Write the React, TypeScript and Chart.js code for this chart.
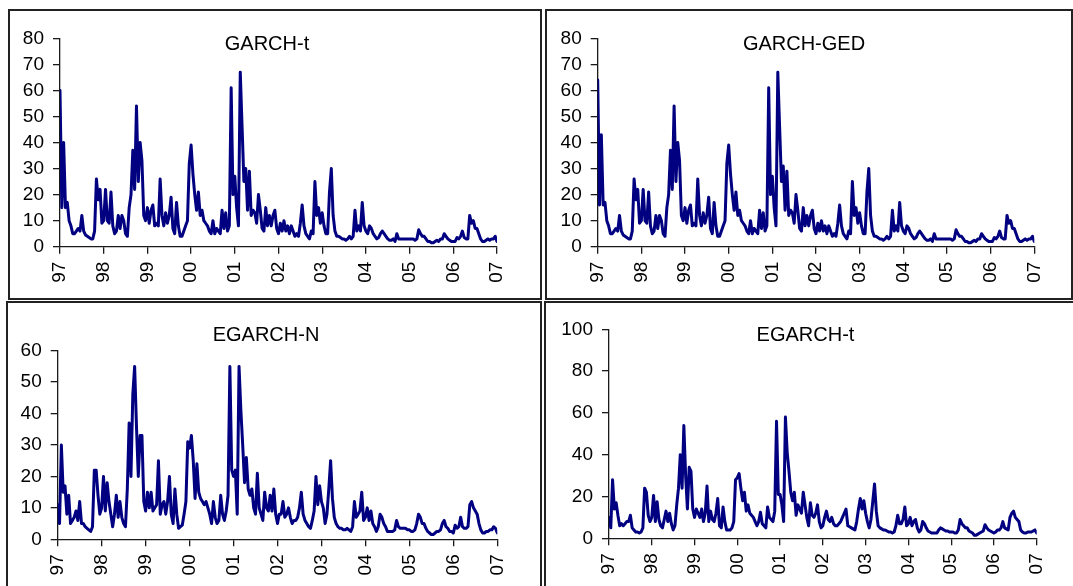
import { useEffect, useRef } from 'react';
import { Chart, registerables } from 'chart.js';

Chart.register(...registerables);

// Annualised conditional volatility, semi-monthly readings from Jan 1997 to Jan 2007
const firstYear = 1997;
const lastYear = 2007;
const periodsPerYear = 24;
const yearLabels = ['97', '98', '99', '00', '01', '02', '03', '04', '05', '06', '07'];

const garchT = [
  60, 15, 40, 15, 17, 10, 8, 5, 5, 6, 7, 6, 12, 6, 4.5, 4, 3.5, 3, 3, 6, 26, 18, 22, 9,
  10, 22, 10, 9, 21, 8, 5, 6, 12, 7, 12, 10, 5, 4, 15, 20, 37, 22, 54, 25, 40, 33, 12, 10,
  15, 9, 14, 16, 8, 9, 8, 26, 12, 8, 13, 9, 12, 19, 7, 5, 17, 8, 4, 4, 6, 8, 10, 32,
  39, 28, 20, 14, 21, 12, 14, 10, 9, 8, 6, 5, 10, 5, 7, 6, 5, 14, 7, 13, 6, 8, 61, 20,
  27, 15, 8, 67, 46, 25, 30, 14, 29, 12, 14, 13, 9, 20, 14, 7, 6, 15, 8, 12, 8, 12, 14, 7,
  5, 9, 6, 10, 6, 8, 5, 8, 6, 4, 5, 4, 9, 16, 8, 5, 4, 3, 6, 5, 25, 12, 15, 9,
  13, 8, 5, 5, 21, 30, 12, 6, 4, 4, 3.5, 3, 3, 2.5, 3, 4, 3, 4, 14, 6, 8, 6, 17, 8,
  6, 5, 8, 7, 5, 4, 3, 3.5, 5, 6, 5, 4, 3, 2.5, 2.5, 3, 2, 5, 3, 3, 3, 3, 3, 3,
  3, 3, 3, 2.5, 3, 6.5, 5, 4, 4, 3, 2, 2, 1.5, 1.5, 2, 2.5, 2, 3, 3, 5, 4, 3, 2.5, 2,
  2, 2, 3.5, 3, 4, 6, 3.5, 3, 3, 12, 9, 10, 7, 7, 5, 3, 2, 2, 2.5, 3, 2.5, 3, 3, 4, 2,
];

const garchGed = [
  64, 16, 43, 16, 17, 10, 8, 5, 5, 6, 7, 6, 12, 6, 4.5, 4, 3.5, 3, 3, 6, 26, 18, 22, 9,
  10, 22, 10, 9, 21, 8, 5, 6, 12, 7, 12, 10, 5, 4, 15, 20, 37, 22, 54, 25, 40, 33, 12, 10,
  15, 9, 14, 16, 8, 9, 8, 26, 12, 8, 13, 9, 12, 19, 7, 5, 17, 8, 4, 4, 6, 8, 10, 32,
  39, 28, 20, 14, 21, 12, 14, 10, 9, 8, 6, 5, 10, 5, 7, 6, 5, 14, 7, 13, 6, 8, 61, 20,
  27, 15, 8, 67, 46, 25, 31, 14, 29, 12, 14, 13, 9, 20, 14, 7, 6, 15, 8, 12, 8, 12, 14, 7,
  5, 9, 6, 10, 6, 8, 5, 8, 6, 4, 5, 4, 9, 16, 8, 5, 4, 3, 6, 5, 25, 12, 15, 9,
  13, 8, 5, 5, 21, 30, 12, 6, 4, 4, 3.5, 3, 3, 2.5, 3, 4, 3, 4, 14, 6, 8, 6, 17, 8,
  6, 5, 8, 7, 5, 4, 3, 3.5, 5, 6, 5, 4, 3, 2.5, 2.5, 3, 2, 5, 3, 3, 3, 3, 3, 3,
  3, 3, 3, 2.5, 3, 6.5, 5, 4, 4, 3, 2, 2, 1.5, 1.5, 2, 2.5, 2, 3, 3, 5, 4, 3, 2.5, 2,
  2, 2, 3.5, 3, 4, 6, 3.5, 3, 3, 12, 9, 10, 7, 7, 5, 3, 2, 2, 2.5, 3, 2.5, 3, 3, 4, 2,
];

const egarchN = [
  11, 5, 30, 15, 17, 8, 14, 5, 6, 7, 9, 6, 12, 5, 5, 4, 3.5, 3, 2.5, 4, 22, 22, 14, 8,
  10, 20, 9, 18, 12, 8, 4, 8, 14, 7, 12, 7, 5, 4, 16, 37, 20, 46, 55, 36, 20, 33, 33, 12,
  9, 15, 10, 15, 9, 10, 11, 25, 8, 11, 12, 8, 12, 20, 8, 5, 16, 8, 3.5, 4, 4.5, 8, 12, 31,
  29, 33, 25, 13, 24, 15, 13, 12, 11, 12, 10, 8, 5, 12, 7, 5, 6, 14, 8, 6, 9, 14, 55, 22,
  20, 22, 8, 55, 41, 30, 18, 26, 16, 14, 16, 10, 8, 21, 10, 8, 6, 15, 10, 9, 14, 9, 16, 8,
  5, 8, 8, 12, 7, 8, 10, 7, 5, 6, 6, 7, 10, 15, 8, 6, 5, 4, 3.5, 6, 9, 20, 11, 17,
  12, 10, 5, 8, 16, 25, 13, 7, 5, 4, 3.5, 3.5, 3, 3, 3.5, 3, 2.5, 4, 12, 7, 8, 9, 15, 6,
  7, 10, 6, 9, 5, 4, 2.5, 4, 8, 7, 5, 4, 2.5, 2.5, 2.5, 2.5, 3, 6, 4, 3.5, 3.5, 3.5, 3.5, 3,
  3, 2.5, 2.5, 3, 5, 8, 7, 5, 5, 3.5, 2.5, 2, 1.5, 1.5, 2, 2.5, 2.5, 3, 5, 6, 4, 3.5, 2.5, 2.5,
  2, 4.5, 3.5, 4, 7, 4, 3.5, 3.5, 4, 11, 12, 10, 9, 8, 5, 3, 2, 2, 2.5, 2.5, 3, 3, 4, 3.5, 2,
];

const egarchT = [
  10, 5, 28, 14, 17, 11, 6, 7, 6, 7, 8, 8, 11, 5, 4, 3, 3, 2.5, 3, 5, 24, 22, 11, 8,
  10, 20.5, 8, 17.5, 9, 6, 5, 9, 13, 8, 12, 7, 4, 6, 16, 24, 40, 24, 54, 30, 14, 34, 32, 14,
  10, 14, 12, 10, 14, 8, 12, 25, 8, 13, 9, 8, 12, 19, 6, 5, 15, 8, 4, 4, 4, 5, 8, 28,
  29, 31, 24, 18, 22, 13, 16, 12, 11, 10, 8, 6, 8, 12.5, 7, 6, 5, 15, 10, 9, 8, 13, 56, 21,
  21, 16, 8, 58, 41, 32, 22, 18, 22, 11, 16, 14, 12, 22, 16, 10, 6, 17, 11, 10, 12, 16, 8, 5,
  6, 10, 13, 9, 8, 10, 7, 6, 6, 7, 8, 10, 12, 14, 6, 5.5, 5, 4.5, 4, 8, 14, 19, 14, 18,
  12, 8, 5, 9, 17.5, 26, 13, 6, 5, 4.5, 4, 4, 3.5, 3, 3, 2.5, 3, 6, 11, 7, 7, 9, 15, 6,
  7, 10, 6, 8, 9, 5, 3, 4, 8, 7, 5, 3.5, 3, 2.5, 2.5, 2.5, 2.5, 4, 5, 4.5, 4, 3.5, 3.5, 3,
  3, 3, 2.5, 2.5, 4, 9, 7, 6, 5, 5, 3.5, 3, 2.5, 1.5, 1.5, 2, 2.5, 3, 3.5, 6.5, 5, 4, 3.5, 3,
  2.5, 3, 4, 4, 5, 8, 5, 4.5, 4, 10, 12, 13, 10, 9, 8, 4, 3, 2.5, 2.5, 3, 3, 3, 3.5, 4, 2.5,
];

// Time of each reading, in fractional years
const periods = garchT.map((_, i) => firstYear + i / periodsPerYear);

const FONT = '"Liberation Sans", Arial, Helvetica, sans-serif';
const LINE_COLOR = '#000080';
const AXIS_COLOR = '#1a1a1a';

type Box = { left: number; top: number; width: number; height: number };
type Plot = { left: number; right: number; top: number; bottom: number };

type PanelSpec = {
  title: string;
  values: number[];
  yMax: number;
  yStep: number;
  frame: Box;
  canvas: Box;
  plot: Plot;
  titleX: number;
  titleY: number;
};

const panels: PanelSpec[] = [
  {
    title: 'GARCH-t',
    values: garchT,
    yMax: 80,
    yStep: 10,
    frame: { left: 8, top: 9, width: 534, height: 291 },
    canvas: { left: 10, top: 11, width: 530, height: 287 },
    plot: { left: 60, right: 497, top: 38.3, bottom: 246.7 },
    titleX: 267,
    titleY: 50,
  },
  {
    title: 'GARCH-GED',
    values: garchGed,
    yMax: 80,
    yStep: 10,
    frame: { left: 545, top: 9, width: 528, height: 291 },
    canvas: { left: 547, top: 11, width: 524, height: 287 },
    plot: { left: 597.7, right: 1034.3, top: 38.3, bottom: 246.7 },
    titleX: 804,
    titleY: 50,
  },
  {
    title: 'EGARCH-N',
    values: egarchN,
    yMax: 60,
    yStep: 10,
    frame: { left: 6, top: 301, width: 536, height: 292 },
    canvas: { left: 8, top: 303, width: 532, height: 283 },
    plot: { left: 57.7, right: 497.3, top: 350.7, bottom: 539.3 },
    titleX: 266,
    titleY: 341,
  },
  {
    title: 'EGARCH-t',
    values: egarchT,
    yMax: 100,
    yStep: 20,
    frame: { left: 544, top: 301, width: 532, height: 292 },
    canvas: { left: 546, top: 303, width: 526, height: 283 },
    plot: { left: 609, right: 1036.7, top: 329.3, bottom: 538.3 },
    titleX: 805.5,
    titleY: 341,
  },
];

function Panel({ spec }: { spec: PanelSpec }) {
  const ref = useRef<HTMLCanvasElement | null>(null);

  useEffect(() => {
    const canvas = ref.current;
    if (!canvas) return;
    const { canvas: cb, plot } = spec;
    const yAxisWidth = plot.left - cb.left;
    const xAxisHeight = cb.top + cb.height - plot.bottom;
    const padTop = plot.top - cb.top;
    const padRight = cb.left + cb.width - plot.right;

    const titlePlugin = {
      id: 'panelTitle',
      afterDraw(chart: any) {
        const ctx = chart.ctx;
        ctx.save();
        ctx.font = `20px ${FONT}`;
        ctx.fillStyle = '#000';
        ctx.textAlign = 'center';
        ctx.textBaseline = 'alphabetic';
        ctx.fillText(spec.title, spec.titleX - cb.left, spec.titleY - cb.top);
        ctx.restore();
      },
    };

    const chart = new Chart(canvas, {
      type: 'line',
      data: {
        datasets: [
          {
            data: spec.values.map((v, i) => ({ x: periods[i], y: v })),
            borderColor: LINE_COLOR,
            borderWidth: 3,
            borderJoinStyle: 'round',
            borderCapStyle: 'round',
            pointRadius: 0,
            tension: 0,
            fill: false,
          },
        ],
      },
      options: {
        animation: false,
        responsive: false,
        maintainAspectRatio: false,
        events: [],
        layout: { padding: { left: 0, top: padTop, right: padRight, bottom: 0 } },
        plugins: {
          legend: { display: false },
          tooltip: { enabled: false },
          title: { display: false },
        },
        scales: {
          x: {
            type: 'linear',
            min: firstYear,
            max: lastYear,
            afterFit: (s: any) => {
              s.height = xAxisHeight;
            },
            grid: { drawOnChartArea: false, drawTicks: true, tickLength: 7, color: AXIS_COLOR, lineWidth: 1.3 },
            border: { display: true, color: AXIS_COLOR, width: 1.3 },
            ticks: {
              stepSize: 1,
              autoSkip: false,
              maxRotation: 90,
              minRotation: 90,
              padding: 8,
              color: '#000',
              font: { family: FONT, size: 19 },
              callback: (v: any) => yearLabels[Math.round(Number(v) - firstYear)] ?? '',
            },
          },
          y: {
            type: 'linear',
            min: 0,
            max: spec.yMax,
            afterFit: (s: any) => {
              s.width = yAxisWidth;
            },
            grid: { drawOnChartArea: false, drawTicks: true, tickLength: 7, color: AXIS_COLOR, lineWidth: 1.3 },
            border: { display: true, color: AXIS_COLOR, width: 1.3 },
            ticks: {
              stepSize: spec.yStep,
              padding: 9,
              color: '#000',
              font: { family: FONT, size: 19 },
            },
          },
        },
      },
      plugins: [titlePlugin],
    });

    return () => chart.destroy();
  }, [spec]);

  return (
    <>
      <div
        style={{
          position: 'absolute',
          left: spec.frame.left,
          top: spec.frame.top,
          width: spec.frame.width,
          height: spec.frame.height,
          border: '2px solid #222',
          boxSizing: 'border-box',
        }}
      />
      <canvas
        ref={ref}
        width={spec.canvas.width}
        height={spec.canvas.height}
        style={{
          position: 'absolute',
          left: spec.canvas.left,
          top: spec.canvas.top,
          width: spec.canvas.width,
          height: spec.canvas.height,
        }}
      />
    </>
  );
}

export default function App() {
  return (
    <div
      style={{
        position: 'absolute',
        left: 0,
        top: 0,
        width: 1073,
        height: 586,
        overflow: 'hidden',
        background: '#fff',
      }}
    >
      {panels.map((p) => (
        <Panel key={p.title} spec={p} />
      ))}
    </div>
  );
}
